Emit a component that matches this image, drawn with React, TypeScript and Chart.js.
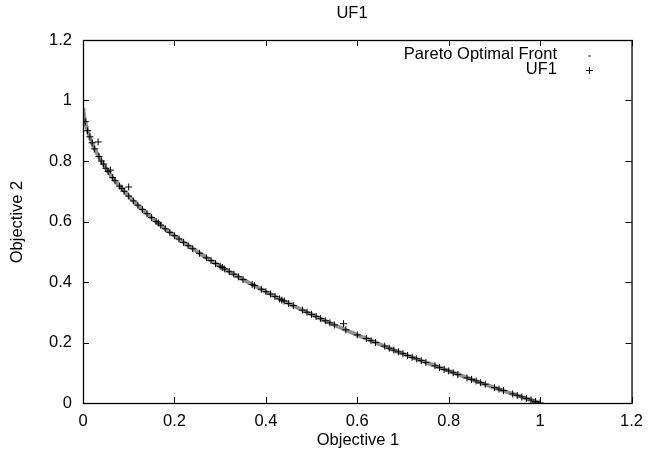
import React, { useEffect, useRef } from "react";
import { Chart, registerables } from "chart.js";

Chart.register(...registerables);

const paretoX = [0.0005, 0.002, 0.005, 0.01, 0.02, 0.03, 0.05, 0.07, 0.1, 0.13, 0.16, 0.2, 0.25, 0.3, 0.35, 0.4, 0.45, 0.5, 0.55, 0.6, 0.65, 0.7, 0.75, 0.8, 0.85, 0.9, 0.95, 1.0];
const paretoY = [0.975, 0.955, 0.929, 0.9, 0.859, 0.827, 0.776, 0.735, 0.684, 0.639, 0.6, 0.553, 0.5, 0.452, 0.408, 0.368, 0.329, 0.293, 0.258, 0.225, 0.194, 0.163, 0.134, 0.106, 0.078, 0.051, 0.025, 0.0];

const uf1X = [0.005, 0.01, 0.015, 0.02, 0.025, 0.033, 0.035, 0.04, 0.045, 0.05, 0.055, 0.06, 0.065, 0.07, 0.08, 0.085, 0.09, 0.1, 0.1, 0.11, 0.12, 0.13, 0.14, 0.15, 0.16, 0.165, 0.17, 0.18, 0.19, 0.2, 0.21, 0.22, 0.23, 0.24, 0.255, 0.27, 0.28, 0.29, 0.3, 0.305, 0.31, 0.32, 0.33, 0.34, 0.35, 0.37, 0.375, 0.39, 0.4, 0.41, 0.42, 0.43, 0.435, 0.44, 0.45, 0.46, 0.48, 0.49, 0.5, 0.51, 0.52, 0.53, 0.54, 0.55, 0.57, 0.575, 0.6, 0.62, 0.63, 0.64, 0.66, 0.67, 0.68, 0.69, 0.7, 0.71, 0.72, 0.73, 0.74, 0.75, 0.77, 0.78, 0.79, 0.8, 0.81, 0.82, 0.84, 0.85, 0.86, 0.87, 0.88, 0.9, 0.91, 0.92, 0.94, 0.95, 0.96, 0.97, 0.98, 0.99, 0.99, 1.0];
const uf1Y = [0.93, 0.9, 0.88, 0.86, 0.84, 0.863, 0.815, 0.8, 0.79, 0.776, 0.765, 0.77, 0.745, 0.735, 0.717, 0.71, 0.7, 0.684, 0.714, 0.668, 0.654, 0.64, 0.626, 0.613, 0.6, 0.595, 0.588, 0.576, 0.564, 0.553, 0.542, 0.531, 0.52, 0.51, 0.495, 0.48, 0.471, 0.461, 0.452, 0.448, 0.443, 0.434, 0.426, 0.417, 0.408, 0.392, 0.388, 0.376, 0.368, 0.36, 0.352, 0.344, 0.34, 0.337, 0.329, 0.322, 0.307, 0.3, 0.293, 0.286, 0.279, 0.272, 0.265, 0.258, 0.262, 0.242, 0.225, 0.213, 0.206, 0.2, 0.188, 0.181, 0.175, 0.169, 0.163, 0.157, 0.151, 0.146, 0.14, 0.134, 0.123, 0.117, 0.111, 0.106, 0.1, 0.094, 0.083, 0.078, 0.073, 0.067, 0.062, 0.051, 0.046, 0.041, 0.03, 0.025, 0.02, 0.015, 0.01, 0.005, 0.0, 0.0];

const xTicks = [0, 0.2, 0.4, 0.6, 0.8, 1, 1.2];
const yTicks = [0, 0.2, 0.4, 0.6, 0.8, 1, 1.2];

const FONT = "Liberation Sans, Arial, Helvetica, sans-serif";

const gnuplotDecor = {
  id: "gnuplotDecor",
  afterDraw(chart: any) {
    const { ctx, chartArea: a, scales } = chart;
    const xs = scales.x;
    const ys = scales.y;
    ctx.save();
    ctx.strokeStyle = "#000";
    ctx.lineWidth = 1;
    ctx.beginPath();
    const tl = 6;
    xTicks.forEach((v) => {
      const px = Math.round(xs.getPixelForValue(v)) + 0.5;
      ctx.moveTo(px, a.bottom);
      ctx.lineTo(px, a.bottom - tl);
      ctx.moveTo(px, a.top);
      ctx.lineTo(px, a.top + tl);
    });
    yTicks.forEach((v) => {
      const py = Math.round(ys.getPixelForValue(v)) + 0.5;
      ctx.moveTo(a.left, py);
      ctx.lineTo(a.left + tl, py);
      ctx.moveTo(a.right, py);
      ctx.lineTo(a.right - tl, py);
    });
    ctx.stroke();
    ctx.lineWidth = 1.3;
    ctx.strokeRect(a.left + 0.5, a.top + 0.5, a.right - a.left, a.bottom - a.top);

    ctx.fillStyle = "#000";
    ctx.font = `16.5px ${FONT}`;
    ctx.textBaseline = "middle";
    ctx.textAlign = "center";
    ctx.fillText("UF1", 352, 13);
    ctx.fillText("Objective 1", 358, 440);
    ctx.save();
    ctx.translate(17, 222);
    ctx.rotate(-Math.PI / 2);
    ctx.fillText("Objective 2", 0, 0);
    ctx.restore();

    ctx.textAlign = "right";
    ctx.fillText("Pareto Optimal Front", 557, 54);
    ctx.fillText("UF1", 557, 69);
    ctx.fillStyle = "#999";
    ctx.fillRect(588, 55, 3, 2);
    ctx.strokeStyle = "#000";
    ctx.lineWidth = 1;
    ctx.beginPath();
    ctx.moveTo(586, 70.5);
    ctx.lineTo(593, 70.5);
    ctx.moveTo(589.5, 67);
    ctx.lineTo(589.5, 74);
    ctx.stroke();
    ctx.restore();
  },
};

export default function App() {
  const ref = useRef<HTMLCanvasElement>(null);
  useEffect(() => {
    document.body.style.margin = "0";
    const chart = new Chart(ref.current!, {
      type: "scatter",
      data: {
        datasets: [
          {
            label: "Pareto Optimal Front",
            data: paretoX.map((x, i) => ({ x, y: paretoY[i] })),
            showLine: true,
            borderColor: "#909090",
            borderWidth: 4,
            pointRadius: 0,
            tension: 0.3,
            order: 2,
          },
          {
            label: "UF1",
            data: uf1X.map((x, i) => ({ x, y: uf1Y[i] })),
            pointStyle: "cross",
            pointRadius: 3.5,
            borderColor: "#000",
            borderWidth: 1,
            backgroundColor: "#000",
            order: 1,
          },
        ],
      },
      options: {
        animation: false,
        responsive: false,
        layout: { padding: { top: 40, right: 18, left: 0, bottom: 0 } },
        plugins: { legend: { display: false }, title: { display: false }, tooltip: { enabled: false } },
        scales: {
          x: {
            type: "linear",
            min: 0,
            max: 1.2,
            afterFit: (s: any) => { s.height = 59; },
            afterBuildTicks: (s: any) => { s.ticks = xTicks.map((v) => ({ value: v })); },
            grid: { display: false, drawTicks: false },
            border: { display: false },
            ticks: {
              padding: 9,
              color: "#000",
              font: { family: FONT, size: 16.5 },
              callback: (v: any) => String(v),
            },
          },
          y: {
            type: "linear",
            min: 0,
            max: 1.2,
            afterFit: (s: any) => { s.width = 83; },
            afterBuildTicks: (s: any) => { s.ticks = yTicks.map((v) => ({ value: v })); },
            grid: { display: false, drawTicks: false },
            border: { display: false },
            ticks: {
              padding: 11,
              color: "#000",
              font: { family: FONT, size: 16.5 },
              callback: (v: any) => String(v),
            },
          },
        },
      },
      plugins: [gnuplotDecor],
    });
    return () => chart.destroy();
  }, []);
  return <canvas ref={ref} width={652} height={462} style={{ display: "block" }} />;
}
